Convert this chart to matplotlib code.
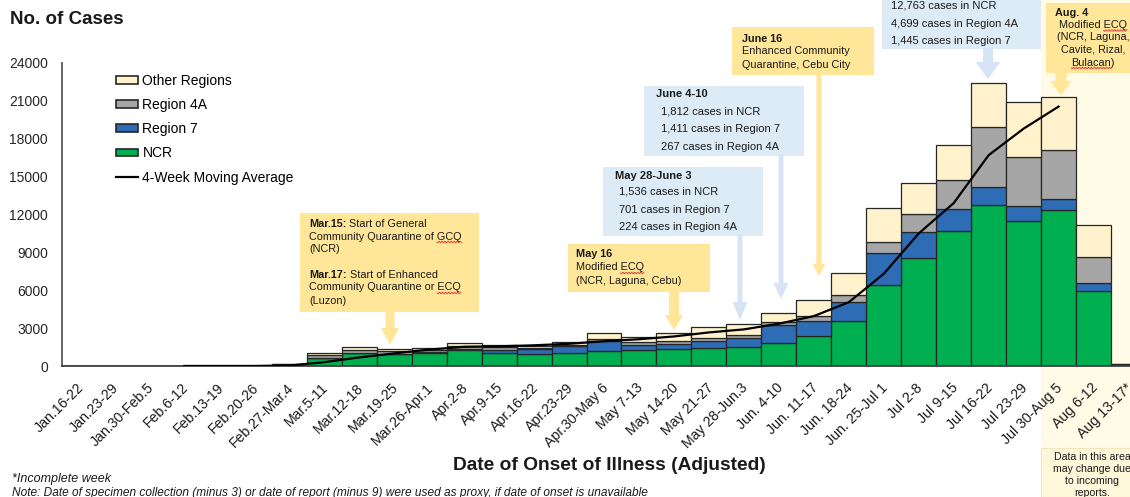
import matplotlib
matplotlib.use("Agg")
import numpy as np
import matplotlib.pyplot as plt
import matplotlib.transforms as mtransforms
from matplotlib.patches import Rectangle, Polygon, Patch
from matplotlib.lines import Line2D

plt.rcParams['font.family'] = ['Liberation Sans', 'DejaVu Sans']

# ---------------- data ----------------
weeks = ["Jan.16-22", "Jan.23-29", "Jan.30-Feb.5", "Feb.6-12", "Feb.13-19", "Feb.20-26",
         "Feb.27-Mar.4", "Mar.5-11", "Mar.12-18", "Mar.19-25", "Mar.26-Apr.1", "Apr.2-8",
         "Apr.9-15", "Apr.16-22", "Apr.23-29", "Apr.30-May 6", "May 7-13", "May 14-20",
         "May 21-27", "May 28-Jun.3", "Jun. 4-10", "Jun. 11-17", "Jun. 18-24", "Jun. 25-Jul 1",
         "Jul 2-8", "Jul 9-15", "Jul 16-22", "Jul 23-29", "Jul 30-Aug 5", "Aug 6-12", "Aug 13-17*"]
ncr = [15, 0, 0, 0, 0, 0, 100, 600, 1000, 930, 1000, 1270, 1050, 950, 1000, 1190, 1270, 1320,
       1400, 1536, 1812, 2400, 3590, 6390, 8550, 10660, 12763, 11480, 12380, 5960, 80]
region7 = [0, 0, 0, 0, 0, 0, 5, 40, 50, 60, 80, 100, 250, 380, 550, 790, 390, 420,
           580, 701, 1411, 1190, 1450, 2530, 2080, 1800, 1445, 1210, 870, 640, 10]
region4a = [5, 0, 0, 0, 0, 0, 25, 200, 200, 180, 190, 220, 180, 120, 150, 160, 260, 240,
            210, 224, 267, 390, 580, 900, 1380, 2290, 4699, 3880, 3850, 2010, 30]
other = [5, 0, 0, 0, 0, 0, 20, 210, 230, 180, 180, 260, 160, 160, 200, 450, 400, 610,
         920, 900, 730, 1250, 1720, 2660, 2450, 2720, 3500, 4310, 4220, 2580, 30]
moving_avg = [np.nan, np.nan, np.nan, 5, 5, 5, 40, 300, 680, 1000, 1300, 1520, 1560, 1640,
              1760, 1960, 2120, 2340, 2660, 2900, 3350, 3950, 5050, 7300, 10500, 12900,
              16700, 18800, 20550, np.nan, np.nan]
yticks = [0, 3000, 6000, 9000, 12000, 15000, 18000, 21000, 24000]

# ---------------- styling ----------------
W, H = 1130, 497
c_ncr, c_r7, c_4a, c_oth = '#00B050', '#2E6CB5', '#A6A6A6', '#FFF2CC'
edge = '#262626'
yellow = '#FFE699'
blue_box = '#DDEBF7'
blue_arrow = '#D6E4F5'

fig = plt.figure(figsize=(W / 100, H / 100), dpi=100)
fig.patch.set_facecolor('white')
ax = fig.add_axes([62 / W, 131 / H, (1146 - 62) / W, 303 / H])
ax.set_facecolor('none')

# pixel transform (origin top-left)
T = mtransforms.Affine2D().scale(1 / W, -1 / H).translate(0, 1) + fig.transFigure

x = np.arange(len(weeks))
b1 = np.array(ncr, float)
b2 = b1 + np.array(region7)
b3 = b2 + np.array(region4a)
kw = dict(width=1.0, edgecolor=edge, linewidth=0.9, zorder=2)
ax.bar(x, ncr, color=c_ncr, **kw)
ax.bar(x, region7, bottom=b1, color=c_r7, **kw)
ax.bar(x, region4a, bottom=b2, color=c_4a, **kw)
ax.bar(x, other, bottom=b3, color=c_oth, **kw)
ax.plot(x, moving_avg, color='black', lw=1.6, zorder=3)

ax.set_xlim(-0.5, len(weeks) - 0.5)
ax.set_ylim(0, 24000)
ax.set_yticks(yticks)
ax.set_yticklabels([str(v) for v in yticks], fontsize=10, color='#262626')
ax.tick_params(axis='y', length=0, pad=10)
ax.set_xticks(x)
ax.set_xticklabels(weeks, rotation=45, ha='right', rotation_mode='anchor', fontsize=10.2,
                   color='#1a1a1a')
ax.tick_params(axis='x', length=0, pad=10.5)
for lab in ax.get_xticklabels():
    lab.set_transform(lab.get_transform() + mtransforms.ScaledTranslation(-3 / 100, 0, fig.dpi_scale_trans))
for s in ['top', 'right']:
    ax.spines[s].set_visible(False)
ax.spines['left'].set_color('#595959')
ax.spines['left'].set_linewidth(1.3)
ax.spines['bottom'].set_color('#404040')
ax.spines['bottom'].set_linewidth(1.3)

# shaded "data may change" area
blend = mtransforms.blended_transform_factory(ax.transData, fig.transFigure)
fig.add_artist(Rectangle((27.5, 0), 3.6, 1.05, transform=blend, facecolor='#FFFBE6',
                         edgecolor='none', zorder=-1))
fig.add_artist(Rectangle((27.5, 0), 3.6, (497 - 448) / H, transform=blend, facecolor='#FFF7D9',
                         edgecolor='#F2E6BE', lw=0.8, zorder=-0.5))

# legend
handles = [Patch(facecolor=c_oth, edgecolor=edge, lw=1.2),
           Patch(facecolor=c_4a, edgecolor=edge, lw=1.2),
           Patch(facecolor=c_r7, edgecolor=edge, lw=1.2),
           Patch(facecolor=c_ncr, edgecolor=edge, lw=1.2),
           Line2D([], [], color='black', lw=1.6)]
labels = ['Other Regions', 'Region 4A', 'Region 7', 'NCR', '4-Week Moving Average']
fig.legend(handles, labels, loc='upper left', bbox_to_anchor=(116 / W, 1 - 74 / H),
           frameon=False, fontsize=10, handlelength=1.6, handleheight=0.5,
           handletextpad=0.3, labelspacing=0.73, borderpad=0, borderaxespad=0)

# ---------------- helpers for annotations ----------------
renderer = fig.canvas.get_renderer()


def box(x0, y0, x1, y1, color):
    fig.add_artist(Rectangle((x0, y0), x1 - x0, y1 - y0, transform=T, facecolor=color,
                             edgecolor='none', zorder=4))


def arrow_down(cx, y0, tip, sw, hw, hl, color):
    pts = [(cx - sw / 2, y0), (cx + sw / 2, y0), (cx + sw / 2, tip - hl), (cx + hw / 2, tip - hl),
           (cx, tip), (cx - hw / 2, tip - hl), (cx - sw / 2, tip - hl)]
    fig.add_artist(Polygon(pts, closed=True, transform=T, facecolor=color, edgecolor='none',
                           zorder=4))


def txt(xp, yp, s, size=7.8, weight='normal', ha='left', **kw):
    return fig.text(xp, yp, s, transform=T, fontsize=size, fontweight=weight, ha=ha,
                    va='center', color='#1a1a1a', zorder=6, **kw)


def width_of(s, size=7.8, weight='normal'):
    t = fig.text(0, 0, s, fontsize=size, fontweight=weight)
    w = t.get_window_extent(renderer).width
    t.remove()
    return w


def mixed(xp, yp, bold, normal, size=7.8):
    w = width_of(bold, size, 'bold')
    txt(xp, yp, bold, size=size, weight='bold')
    txt(xp + w + 3, yp, normal, size=size)


def squiggle(line, word, xp, yp, ha='left', size=7.8):
    full = width_of(line, size)
    left = xp if ha == 'left' else xp - full / 2
    start = left + width_of(line[:line.index(word)], size)
    end = start + width_of(word, size)
    xs = np.linspace(start, end, max(int((end - start) * 1.2), 6))
    ys = yp + 5.5 + 0.9 * np.sin((xs - start) * 2 * np.pi / 3.0)
    fig.add_artist(Line2D(xs, ys, transform=T, color='#E03030', lw=0.6, zorder=7))


# Mar.15 / Mar.17 box
box(300, 213, 479, 312, yellow)
arrow_down(390, 311, 345, 9, 18, 17, yellow)
mixed(309, 224, 'Mar.15:', 'Start of General')
txt(309, 236.5, 'Community Quarantine of GCQ')
squiggle('Community Quarantine of GCQ', 'GCQ', 309, 236.5)
txt(309, 249.5, '(NCR)')
mixed(309, 274.5, 'Mar.17:', 'Start of Enhanced')
txt(309, 287.5, 'Community Quarantine or ECQ')
squiggle('Community Quarantine or ECQ', 'ECQ', 309, 287.5)
txt(309, 300.5, '(Luzon)')

# May 16 box
box(568, 244, 710, 292, yellow)
arrow_down(674, 291, 330, 10, 18, 15, yellow)
txt(576, 254, 'May 16', weight='bold')
txt(576, 267.5, 'Modified ECQ')
squiggle('Modified ECQ', 'ECQ', 576, 267.5)
txt(576, 281, '(NCR, Laguna, Cebu)')

# May 28-June 3 box
box(603, 167, 763, 236, blue_box)
arrow_down(740, 235, 320, 5, 15, 18, blue_arrow)
txt(615, 176, 'May 28-June 3', size=8, weight='bold')
txt(619, 192, '1,536 cases in NCR', size=8)
txt(619, 210, '701 cases in Region 7', size=8)
txt(619, 227.5, '224 cases in Region 4A', size=8)

# June 4-10 box
box(644, 86, 804, 156, blue_box)
arrow_down(781, 155, 299, 5, 15, 16, blue_arrow)
txt(656, 94, 'June 4-10', size=8, weight='bold')
txt(661, 111.5, '1,812 cases in NCR', size=8)
txt(661, 129.5, '1,411 cases in Region 7', size=8)
txt(661, 147, '267 cases in Region 4A', size=8)

# June 16 box
box(732, 27, 874, 75, yellow)
arrow_down(819, 74, 276, 5, 13, 12, yellow)
txt(742, 39, 'June 16', weight='bold')
txt(742, 51.5, 'Enhanced Community')
txt(742, 64.5, 'Quarantine, Cebu City')

# July 16-22 box (top cut off)
box(882, -20, 1041, 49, blue_box)
arrow_down(988, 48, 79, 10, 25, 17, blue_arrow)
txt(891, 5, '12,763 cases in NCR', size=8)
txt(891, 24, '4,699 cases in Region 4A', size=8)
txt(891, 41, '1,445 cases in Region 7', size=8)

# Aug. 4 box
box(1046, 3, 1145, 73, yellow)
arrow_down(1061, 72, 95, 11, 22, 14, yellow)
txt(1055, 13, 'Aug. 4', weight='bold')
txt(1093, 25, 'Modified ECQ', ha='center')
squiggle('Modified ECQ', 'ECQ', 1093, 25, ha='center')
txt(1093, 37.5, '(NCR, Laguna,', ha='center')
txt(1093, 50, 'Cavite, Rizal,', ha='center')
txt(1093, 62.5, 'Bulacan)', ha='center')
squiggle('Bulacan)', 'Bulacan', 1093, 62.5, ha='center')

# data may change note
for yy, s in zip([457, 469, 481, 493], ['Data in this area', 'may change due', 'to incoming', 'reports.']):
    txt(1092, yy, s, size=7.6, ha='center')

# titles and notes
fig.text(10 / W, 1 - 20 / H, 'No. of Cases', fontsize=13.5, fontweight='bold', va='center',
         ha='left', color='#1a1a1a')
fig.text(609 / W, 1 - 466 / H, 'Date of Onset of Illness (Adjusted)', fontsize=13.75,
         fontweight='bold', va='center', ha='center', color='#1a1a1a')
txt(12, 479, '*Incomplete week', size=9, style='italic')
txt(12, 493, 'Note: Date of specimen collection (minus 3) or date of report (minus 9) were used '
             'as proxy, if date of onset is unavailable', size=8.55, style='italic')

fig.savefig('out.png', dpi=100)
